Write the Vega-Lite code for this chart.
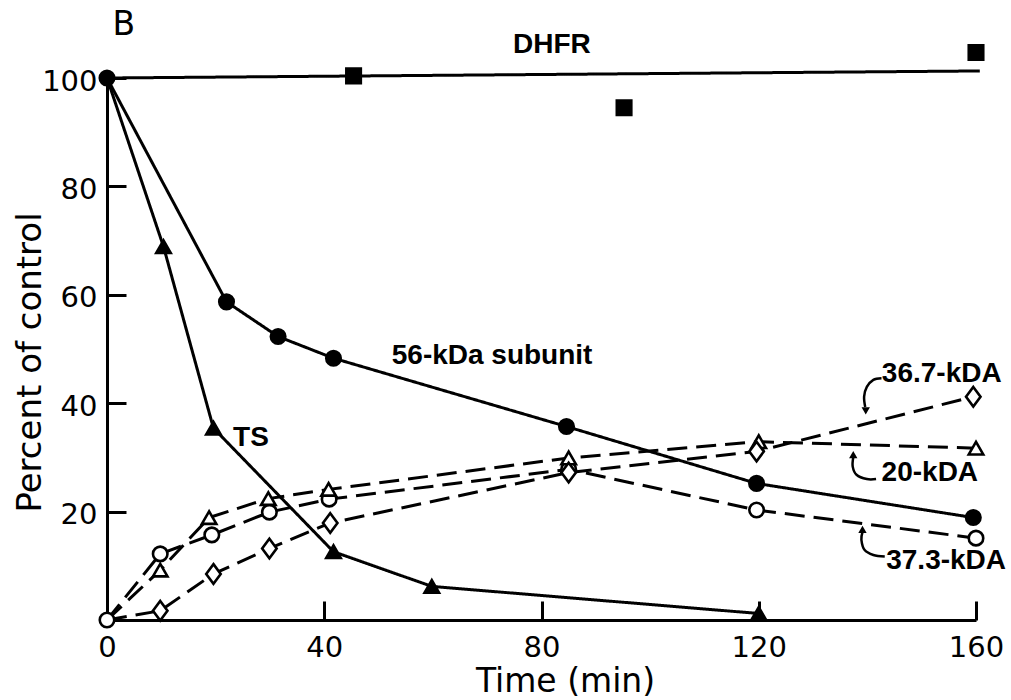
{
  "$schema": "https://vega.github.io/schema/vega-lite/v6.json",
  "width": 869,
  "height": 542,
  "autosize": "none",
  "padding": {"left": 107, "top": 78, "right": 35, "bottom": 80},
  "background": "white",
  "config": {
    "view": {"stroke": null},
    "axis": {
      "grid": false,
      "domainColor": "black",
      "domainWidth": 3,
      "tickColor": "black",
      "tickWidth": 3,
      "tickSize": -19,
      "labelFlush": false,
      "labelFont": "DejaVu Sans",
      "labelFontSize": 29,
      "labelColor": "black",
      "titleFont": "DejaVu Sans",
      "titleFontWeight": "normal",
      "titleColor": "black"
    }
  },
  "datasets": {
    "series": [
      {"s": "DHFR fit", "t": 0, "v": 100},
      {"s": "DHFR fit", "t": 160.7, "v": 101.3},
      {"s": "DHFR", "t": 45.4, "v": 100.4},
      {"s": "DHFR", "t": 95.2, "v": 94.5},
      {"s": "DHFR", "t": 160, "v": 104.7},
      {"s": "56-kDa", "t": 0, "v": 100},
      {"s": "56-kDa", "t": 22, "v": 58.7},
      {"s": "56-kDa", "t": 31.5, "v": 52.3},
      {"s": "56-kDa", "t": 41.7, "v": 48.3},
      {"s": "56-kDa", "t": 84.6, "v": 35.7},
      {"s": "56-kDa", "t": 119.6, "v": 25.2},
      {"s": "56-kDa", "t": 159.5, "v": 18.9},
      {"s": "TS", "t": 0, "v": 100},
      {"s": "TS", "t": 10.4, "v": 68.9},
      {"s": "TS", "t": 19.6, "v": 35.4},
      {"s": "TS", "t": 41.7, "v": 12.6},
      {"s": "TS", "t": 59.8, "v": 6.2},
      {"s": "TS", "t": 120, "v": 1.2},
      {"s": "37.3-kDA", "t": 0, "v": 0},
      {"s": "37.3-kDA", "t": 9.8, "v": 12.2},
      {"s": "37.3-kDA", "t": 19.3, "v": 15.7},
      {"s": "37.3-kDA", "t": 29.9, "v": 19.9},
      {"s": "37.3-kDA", "t": 40.9, "v": 22.3},
      {"s": "37.3-kDA", "t": 85, "v": 27.8},
      {"s": "37.3-kDA", "t": 119.6, "v": 20.3},
      {"s": "37.3-kDA", "t": 160, "v": 15.1},
      {"s": "20-kDA", "t": 0, "v": 0},
      {"s": "20-kDA", "t": 9.8, "v": 9.2},
      {"s": "20-kDA", "t": 18.8, "v": 18.9},
      {"s": "20-kDA", "t": 29.7, "v": 22.4},
      {"s": "20-kDA", "t": 40.8, "v": 24.1},
      {"s": "20-kDA", "t": 85, "v": 29.9},
      {"s": "20-kDA", "t": 120, "v": 32.9},
      {"s": "20-kDA", "t": 160, "v": 31.7},
      {"s": "36.7-kDA", "t": 0, "v": 0},
      {"s": "36.7-kDA", "t": 9.8, "v": 1.7},
      {"s": "36.7-kDA", "t": 19.6, "v": 8.5},
      {"s": "36.7-kDA", "t": 29.9, "v": 13.2},
      {"s": "36.7-kDA", "t": 41.1, "v": 17.9},
      {"s": "36.7-kDA", "t": 85, "v": 27.2},
      {"s": "36.7-kDA", "t": 119.6, "v": 31.1},
      {"s": "36.7-kDA", "t": 159.5, "v": 41.2}
    ],
    "leaders": [
      {"g": "a", "k": 0, "t": 142.6, "v": 44.6},
      {"g": "a", "k": 1, "t": 141.1, "v": 44.3},
      {"g": "a", "k": 2, "t": 139.9, "v": 43.0},
      {"g": "a", "k": 3, "t": 139.4, "v": 41.2},
      {"g": "a", "k": 4, "t": 139.6, "v": 39.3},
      {"g": "b", "k": 0, "t": 137.4, "v": 30.0},
      {"g": "b", "k": 1, "t": 137.3, "v": 28.3},
      {"g": "b", "k": 2, "t": 138.0, "v": 26.8},
      {"g": "b", "k": 3, "t": 139.9, "v": 26.0},
      {"g": "b", "k": 4, "t": 141.6, "v": 26.0},
      {"g": "c", "k": 0, "t": 139.1, "v": 16.2},
      {"g": "c", "k": 1, "t": 138.9, "v": 14.8},
      {"g": "c", "k": 2, "t": 139.5, "v": 12.9},
      {"g": "c", "k": 3, "t": 141.1, "v": 12.0},
      {"g": "c", "k": 4, "t": 143.2, "v": 11.7}
    ],
    "arrows": [
      {"g": "a", "dir": "down", "t": 139.7, "v": 38.6},
      {"g": "b", "dir": "up", "t": 137.4, "v": 30.5},
      {"g": "c", "dir": "up", "t": 139.1, "v": 16.7}
    ],
    "labels": [
      {"text": "B", "t": 3.1, "v": 109.8, "kind": "panel"},
      {"text": "DHFR", "t": 81.9, "v": 106.1, "kind": "series"},
      {"text": "56-kDa subunit", "t": 70.9, "v": 48.7, "kind": "series"},
      {"text": "TS", "t": 26.5, "v": 33.6, "kind": "series"},
      {"text": "36.7-kDA", "t": 153.7, "v": 45.4, "kind": "series"},
      {"text": "20-kDA", "t": 151.5, "v": 27.1, "kind": "series"},
      {"text": "37.3-kDA", "t": 154.5, "v": 10.9, "kind": "series"}
    ]
  },
  "encoding": {
    "x": {
      "field": "t",
      "type": "quantitative",
      "scale": {"domain": [0, 160], "nice": false, "zero": false},
      "axis": {
        "title": "Time (min)",
        "values": [0, 40, 80, 120, 160],
        "labelPadding": 32,
        "titleFontSize": 33,
        "titleX": 458,
        "titleY": 71,
        "titleAnchor": "middle",
        "titleBaseline": "alphabetic"
      }
    },
    "y": {
      "field": "v",
      "type": "quantitative",
      "scale": {"domain": [0, 100], "nice": false},
      "axis": {
        "title": "Percent of control",
        "values": [20, 40, 60, 80, 100],
        "labelPadding": 29,
        "labelOffset": 3,
        "titleFontSize": 34,
        "titleX": -67,
        "titleY": 284,
        "titleAngle": -90,
        "titleBaseline": "alphabetic",
        "titleAlign": "center"
      }
    }
  },
  "layer": [
    {
      "data": {"name": "series"},
      "transform": [{"filter": "datum.s !== 'DHFR'"}],
      "mark": {"type": "line", "color": "black", "strokeWidth": 3, "clip": false},
      "encoding": {
        "detail": {"field": "s"},
        "strokeDash": {
          "field": "s",
          "type": "nominal",
          "scale": {
            "domain": ["DHFR fit", "56-kDa", "TS", "37.3-kDA", "20-kDA", "36.7-kDA"],
            "range": [[1, 0], [1, 0], [1, 0], [20, 9], [20, 9], [20, 9]]
          },
          "legend": null
        }
      }
    },
    {
      "data": {"name": "series"},
      "transform": [
        {"filter": "datum.s !== 'DHFR fit' && !(datum.t === 0 && datum.s !== '37.3-kDA' && datum.s !== '56-kDa')"}
      ],
      "mark": {"type": "point", "stroke": "black", "strokeWidth": 2.6, "opacity": 1, "filled": false, "clip": false},
      "encoding": {
        "shape": {
          "field": "s",
          "type": "nominal",
          "scale": {
            "domain": ["DHFR", "56-kDa", "TS", "37.3-kDA", "20-kDA", "36.7-kDA"],
            "range": ["square", "circle", "triangle-up", "circle", "triangle-up", "M0,-1.35L1,0L0,1.35L-1,0Z"]
          },
          "legend": null
        },
        "fill": {
          "field": "s",
          "type": "nominal",
          "scale": {
            "domain": ["DHFR", "56-kDa", "TS", "37.3-kDA", "20-kDA", "36.7-kDA"],
            "range": ["black", "black", "black", "white", "white", "white"]
          },
          "legend": null
        },
        "size": {
          "field": "s",
          "type": "nominal",
          "scale": {
            "domain": ["DHFR", "56-kDa", "TS", "37.3-kDA", "20-kDA", "36.7-kDA"],
            "range": [210, 210, 290, 140, 180, 150]
          },
          "legend": null
        }
      }
    },
    {
      "data": {"name": "leaders"},
      "mark": {"type": "line", "color": "black", "strokeWidth": 2.5, "interpolate": "cardinal", "clip": false},
      "encoding": {
        "detail": {"field": "g"},
        "order": {"field": "k", "type": "quantitative"}
      }
    },
    {
      "data": {"name": "arrows"},
      "transform": [{"filter": "datum.dir === 'up'"}],
      "mark": {"type": "point", "shape": "triangle-up", "filled": true, "color": "black", "opacity": 1, "size": 70, "clip": false}
    },
    {
      "data": {"name": "arrows"},
      "transform": [{"filter": "datum.dir === 'down'"}],
      "mark": {"type": "point", "shape": "triangle-down", "filled": true, "color": "black", "opacity": 1, "size": 70, "clip": false}
    },
    {
      "data": {"name": "labels"},
      "transform": [{"filter": "datum.kind === 'series'"}],
      "mark": {"type": "text", "font": "Liberation Sans", "fontWeight": "bold", "fontSize": 28, "color": "black", "align": "center", "baseline": "middle", "clip": false},
      "encoding": {"text": {"field": "text"}}
    },
    {
      "data": {"name": "labels"},
      "transform": [{"filter": "datum.kind === 'panel'"}],
      "mark": {"type": "text", "font": "DejaVu Sans", "fontSize": 33, "color": "black", "align": "center", "baseline": "middle", "clip": false},
      "encoding": {"text": {"field": "text"}}
    }
  ]
}
